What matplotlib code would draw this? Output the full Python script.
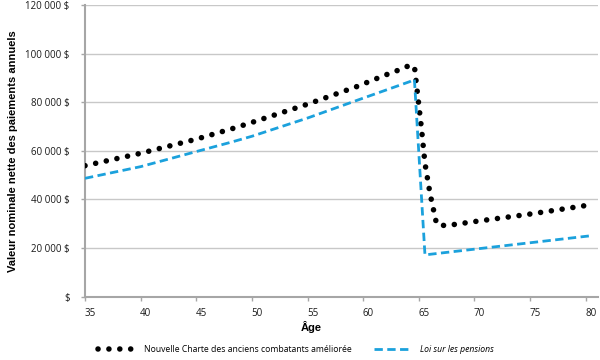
import matplotlib
matplotlib.use("Agg")
import matplotlib.pyplot as plt
import matplotlib.transforms as mtransforms

plt.rcParams["font.family"] = ["Open Sans", "DejaVu Sans"]

# Nouvelle Charte des anciens combatants amelioree
ncac_age = [35, 40, 45, 48.5, 50, 55, 59.4, 62, 63, 63.9, 64.6, 65.25, 65.55, 66.0, 66.6, 67.4, 70, 75, 80]
ncac_val = [53900, 59000, 64800, 69500, 71700, 79200, 86400, 91200, 92900, 94700, 94900,
            68600, 54900, 42500, 29800, 29200, 30900, 34000, 37500]

# Loi sur les pensions
lsp_age = [35, 40, 45, 48, 50, 55, 59.7, 64.2, 64.6, 65.55, 80.5]
lsp_val = [48700, 53500, 59700, 63400, 66000, 73500, 81200, 88500, 89500, 17200, 25100]

yticks = [0, 20000, 40000, 60000, 80000, 100000, 120000]
ytick_labels = ["$", "20 000 $", "40 000 $", "60 000 $", "80 000 $", "100 000 $", "120 000 $"]
xticks = [35, 40, 45, 50, 55, 60, 65, 70, 75, 80]

fig = plt.figure(figsize=(6, 3.6), dpi=100)
ax = fig.add_axes([85/600, 1-296.7/360, 513/600, 291.7/360])

blue = "#1ba1dc"
grid_c = "#c8c8c8"
axis_c = "#a6a6a6"

dots, = ax.plot(ncac_age, ncac_val, color="black", linewidth=4.0,
                linestyle=(0, (0.01, 1.95)), dash_capstyle="round",
                label="Nouvelle Charte des anciens combatants améliorée", zorder=3)
dash, = ax.plot(lsp_age, lsp_val, color=blue, linewidth=2.0,
                linestyle=(0, (3.0, 1.6)), label="Loi sur les pensions", zorder=3)

ax.set_xlim(35, 81.1)
ax.set_ylim(0, 120000)
ax.set_yticks(yticks)
ax.set_yticklabels(ytick_labels, fontsize=7)
ax.set_xticks(xticks)
ax.set_xticklabels([str(a) for a in xticks], fontsize=7)

ax.yaxis.grid(True, color=grid_c, linewidth=1.0)
ax.set_axisbelow(True)
for s in ["top", "right"]:
    ax.spines[s].set_visible(False)
for s in ["left", "bottom"]:
    ax.spines[s].set_color(axis_c)
    ax.spines[s].set_linewidth(1.5)
ax.tick_params(axis="both", colors=axis_c, length=3, width=1, labelcolor="#1a1a1a")
ax.tick_params(axis="y", pad=8)
ax.tick_params(axis="x", pad=5)

# shift x tick labels a bit right, like the original
offset = mtransforms.ScaledTranslation(5/100, 0, fig.dpi_scale_trans)
for lab in ax.get_xticklabels():
    lab.set_transform(lab.get_transform() + offset)

ax.set_ylabel("Valeur nominale nette des paiements annuels", fontsize=8,
              fontweight="bold", family=["Liberation Sans"])
ax.yaxis.set_label_coords(-0.13, 0.5)
ax.set_xlabel("Âge", fontsize=8, fontweight="bold", family=["Liberation Sans"])
ax.xaxis.set_label_coords(0.44, -0.085)

leg = fig.legend(handles=[dots, dash], loc="center", bbox_to_anchor=(0.493, 0.03),
                 ncol=2, frameon=False, fontsize=6.2, handlelength=4.4,
                 columnspacing=2.6, handletextpad=0.9)
leg.get_texts()[1].set_fontstyle("italic")

fig.savefig("out.png", dpi=100)
